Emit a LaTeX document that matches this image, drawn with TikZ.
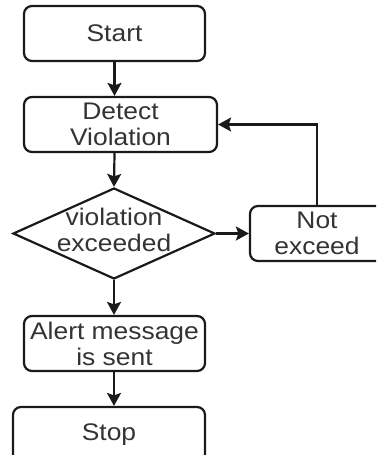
\documentclass[tikz,border=0pt]{standalone}
\usepackage{fontspec}
\setmainfont[FakeStretch=1.1]{Liberation Sans}
\usetikzlibrary{shapes.geometric,arrows.meta}
\definecolor{edgecol}{HTML}{1A1A1A}
\definecolor{textcol}{HTML}{333333}
\tikzset{
  box/.style={draw=edgecol, line width=2.2pt, rounded corners=8pt, fill=white,
              inner sep=0pt, align=center, text=textcol,
              font=\fontsize{24}{26}\selectfont},
  dia/.style={draw=edgecol, line width=2.2pt, diamond, inner sep=0pt, fill=white},
  lbl/.style={align=center, text=textcol, inner sep=0pt,
              font=\fontsize{24}{26}\selectfont},
  arr/.style={draw=edgecol, line width=2.2pt,
              -{Stealth[length=13pt,width=14pt,inset=2.5pt]}},
}
\begin{document}
\begin{tikzpicture}[x=1pt,y=-1pt]
  \clip (0,0) rectangle (376,455);
  \fill[white] (0,0) rectangle (376,455);

  % process boxes
  \node[box, minimum width=181pt, minimum height=55pt] (start) at (114.5,33.5) {Start};
  \node[box, minimum width=193pt, minimum height=55pt] (detect) at (120.5,124.5) {Detect\\Violation};
  \node[dia, minimum width=202pt, minimum height=91pt] (dec) at (114,233.5) {};
  \node[lbl] (declbl) at (114,230) {violation\\exceeded};
  \node[box, minimum width=134pt, minimum height=55pt] (notex) at (317,233.5) {Not\\exceed};
  \node[box, minimum width=181pt, minimum height=55pt] (alert) at (114.5,343.5) {Alert message\\is sent};
  \node[box, minimum width=192pt, minimum height=55pt] (stop) at (109,434.5) {Stop};

  % main flow
  \draw[arr] (start.south) -- (start.south |- detect.north);
  \draw[arr] (start.south |- detect.south) -- (dec.north);
  \draw[arr] (dec.south) -- (dec.south |- alert.north);
  \draw[arr] (dec.south |- alert.south) -- (dec.south |- stop.north);

  % side branch and loop back
  \draw[arr] (dec.east) -- (notex.west);
  \draw[arr] (notex.north) |- (detect.east);
\end{tikzpicture}
\end{document}
